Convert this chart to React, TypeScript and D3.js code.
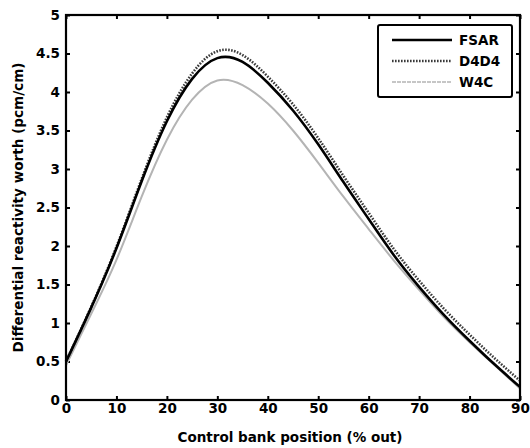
import React, { useRef, useEffect } from "react";
import * as d3 from "d3";

const width = 530;
const height = 448;
const margin = { top: 15, right: 10, bottom: 48, left: 66 };

// control bank position (% out)
const positions = [0, 5, 10, 15, 20, 25, 30, 35, 40, 45, 50, 55, 60, 65, 70, 75, 80, 85, 90];
const fsar = [0.5, 1.2, 1.97, 2.84, 3.62, 4.17, 4.44, 4.39, 4.12, 3.76, 3.32, 2.83, 2.35, 1.88, 1.47, 1.1, 0.77, 0.46, 0.17];
const d4d4 = [0.5, 1.21, 1.99, 2.87, 3.67, 4.24, 4.53, 4.48, 4.2, 3.84, 3.4, 2.91, 2.43, 1.96, 1.55, 1.18, 0.85, 0.54, 0.25];
const w4c = [0.45, 1.12, 1.82, 2.64, 3.38, 3.9, 4.15, 4.09, 3.85, 3.5, 3.08, 2.64, 2.22, 1.81, 1.43, 1.07, 0.75, 0.45, 0.15];

const xTicks = [0, 10, 20, 30, 40, 50, 60, 70, 80, 90];
const yTicks = [0, 0.5, 1, 1.5, 2, 2.5, 3, 3.5, 4, 4.5, 5];

const series = [
  { name: "W4C", values: w4c, color: "#b4b4b4", width: 2, dash: null },
  { name: "D4D4", values: d4d4, color: "#3a3a3a", width: 2.6, dash: "1.6,1.4" },
  { name: "FSAR", values: fsar, color: "#000", width: 2.6, dash: null },
];
const legendOrder = ["FSAR", "D4D4", "W4C"];

const font = "'DejaVu Sans', sans-serif";

const App = () => {
  const ref = useRef<SVGSVGElement>(null);

  useEffect(() => {
    if (!ref.current) return;
    const svg = d3.select(ref.current);
    svg.selectAll("*").remove();

    const x = d3.scaleLinear().domain([0, 90]).range([margin.left, width - margin.right]);
    const y = d3.scaleLinear().domain([0, 5]).range([height - margin.bottom, margin.top]);

    svg.append("rect").attr("width", width).attr("height", height).attr("fill", "#fff");

    const styleAxis = (g: any, labels: boolean) => {
      g.select(".domain").remove();
      g.selectAll("line").attr("stroke", "#000").attr("stroke-width", 2);
      g.selectAll("text")
        .attr("fill", "#000")
        .style("font-family", font)
        .style("font-size", "13.5px")
        .style("font-weight", "bold")
        .style("display", labels ? null : "none");
    };

    svg
      .append("g")
      .attr("transform", `translate(0,${height - margin.bottom})`)
      .call(d3.axisBottom(x).tickValues(xTicks).tickSize(-4).tickPadding(3))
      .call((g) => styleAxis(g, true));
    svg
      .append("g")
      .attr("transform", `translate(0,${margin.top})`)
      .call(d3.axisTop(x).tickValues(xTicks).tickSize(-4))
      .call((g) => styleAxis(g, false));
    svg
      .append("g")
      .attr("transform", `translate(${margin.left},0)`)
      .call(d3.axisLeft(y).tickValues(yTicks).tickSize(-4).tickPadding(6).tickFormat(d3.format("")))
      .call((g) => styleAxis(g, true));
    svg
      .append("g")
      .attr("transform", `translate(${width - margin.right},0)`)
      .call(d3.axisRight(y).tickValues(yTicks).tickSize(-4))
      .call((g) => styleAxis(g, false));

    const line = d3
      .line<number>()
      .x((_, i) => x(positions[i]))
      .y((d) => y(d))
      .curve(d3.curveNatural);

    series.forEach((s) => {
      svg
        .append("path")
        .attr("d", line(s.values))
        .attr("fill", "none")
        .attr("stroke", s.color)
        .attr("stroke-width", s.width)
        .attr("stroke-dasharray", s.dash);
    });

    // frame
    svg
      .append("rect")
      .attr("x", margin.left)
      .attr("y", margin.top)
      .attr("width", width - margin.left - margin.right)
      .attr("height", height - margin.top - margin.bottom)
      .attr("fill", "none")
      .attr("stroke", "#000")
      .attr("stroke-width", 2.2);

    // legend
    const lg = svg.append("g").attr("transform", "translate(378,25)");
    lg.append("rect")
      .attr("width", 134)
      .attr("height", 72)
      .attr("rx", 2)
      .attr("fill", "#fff")
      .attr("stroke", "#000")
      .attr("stroke-width", 2);
    legendOrder.forEach((name, i) => {
      const s = series.find((d) => d.name === name)!;
      const ly = 15 + i * 21;
      lg.append("line")
        .attr("x1", 14)
        .attr("x2", 74)
        .attr("y1", ly)
        .attr("y2", ly)
        .attr("stroke", s.color)
        .attr("stroke-width", name === "W4C" ? 1.6 : s.width)
        .attr("stroke-dasharray", name === "W4C" ? "4,1" : s.dash);
      lg.append("text")
        .attr("x", 81)
        .attr("y", ly + 5)
        .style("font-family", font)
        .style("font-size", "13.5px")
        .style("font-weight", "bold")
        .text(name);
    });

    svg
      .append("text")
      .attr("x", 290)
      .attr("y", 442)
      .attr("text-anchor", "middle")
      .attr("textLength", 225)
      .attr("lengthAdjust", "spacingAndGlyphs")
      .style("font-family", font)
      .style("font-size", "13.5px")
      .style("font-weight", "bold")
      .text("Control bank position (% out)");

    svg
      .append("text")
      .attr("transform", `translate(23,${(margin.top + height - margin.bottom) / 2}) rotate(-90)`)
      .attr("text-anchor", "middle")
      .attr("textLength", 290)
      .attr("lengthAdjust", "spacingAndGlyphs")
      .style("font-family", font)
      .style("font-size", "13.5px")
      .style("font-weight", "bold")
      .text("Differential reactivity worth (pcm/cm)");
  }, []);

  return (
    <svg
      ref={ref}
      width={width}
      height={height}
      style={{ position: "absolute", left: 0, top: 0, display: "block" }}
    />
  );
};

export default App;
